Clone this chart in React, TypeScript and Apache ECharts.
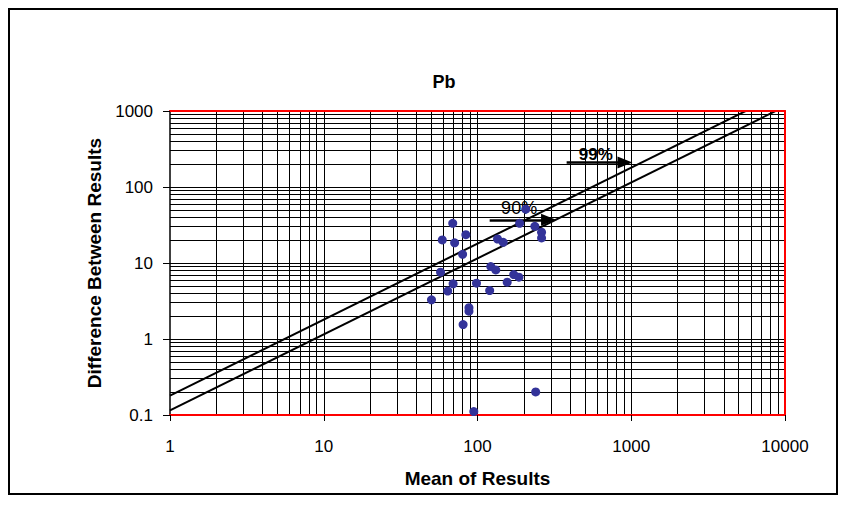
import React, { useEffect, useRef } from "react";
import * as echarts from "echarts";

// Scatter data: Mean of Results vs Difference Between Results (Pb)
const meanValues = [206, 69, 188, 236, 261, 261, 84, 59, 71, 135, 147, 80, 57.5, 122, 131.5, 69.4, 98.5, 172, 186, 156, 64, 120, 50.2, 88, 88, 80.6, 239, 94.6];
const diffValues = [51, 33.3, 33.3, 30.4, 25.4, 21.4, 23.6, 20.1, 18.4, 20.7, 18.7, 13.0, 7.57, 8.97, 8.1, 5.32, 5.43, 7.05, 6.5, 5.6, 4.27, 4.34, 3.28, 2.58, 2.32, 1.55, 0.201, 0.111];

// Control lines (slope 1 on log-log)
const line99X = [1, 10000];
const line99Y = [0.18, 1800];
const line90X = [1, 10000];
const line90Y = [0.115, 1150];

// Arrow annotations
const arrow90X = [120, 290];
const arrow90Y = [37, 37];
const arrow99X = [380, 910];
const arrow99Y = [210, 210];

// Axis ranges / ticks
const xMin = 1, xMax = 10000;
const yMin = 0.1, yMax = 1000;
const xDecades = [1, 10, 100, 1000];
const yDecades = [0.1, 1, 10, 100];
const gridMultipliers = [1, 2, 3, 4, 5, 6, 7, 8, 9];

const FONT = "'Liberation Sans', Arial, Helvetica, sans-serif";

function gridValues(decades: number[], min: number) {
  const out: number[] = [];
  decades.forEach((d) => {
    gridMultipliers.forEach((m) => {
      const v = +(d * m).toPrecision(6);
      if (v > min) out.push(v);
    });
  });
  return out;
}

const fmt = (v: number) => String(+(+v).toPrecision(6));

export default function App() {
  const ref = useRef<HTMLDivElement>(null);
  useEffect(() => {
    if (!ref.current) return;
    const chart = echarts.init(ref.current, undefined, { renderer: "svg" });
    const xGrid = gridValues(xDecades, xMin);
    const yGrid = gridValues(yDecades, yMin);
    const redAxis = { show: true, lineStyle: { color: "#ff0000", width: 2 } };
    const arrowSeries = (name: string, xs: number[], ys: number[], text: string, bold: boolean, size: number, dist: number) => ({
      name,
      type: "line",
      data: [],
      z: 6,
      silent: true,
      markLine: {
        silent: true,
        animation: false,
        symbol: ["none", "triangle"],
        symbolSize: [12, 15],
        lineStyle: { color: "#000", width: 2.5, type: "solid" },
        label: {
          show: true,
          position: "insideMiddleTop",
          formatter: text,
          color: "#000",
          fontFamily: FONT,
          fontSize: size,
          fontWeight: bold ? "bold" : "normal",
          distance: dist,
        },
        emphasis: { disabled: true },
        data: [[{ coord: [xs[0], ys[0]] }, { coord: [xs[1], ys[1]] }]],
      },
    });
    chart.setOption({
      animation: false,
      backgroundColor: "#fff",
      title: {
        text: "Pb",
        left: 429,
        top: 58,
        textAlign: "center",
        textStyle: { fontFamily: FONT, fontSize: 18, fontWeight: "bold", color: "#000" },
      },
      grid: { left: 160, top: 101, width: 615, height: 305, containLabel: false },
      xAxis: [
        {
          type: "log",
          logBase: 10,
          min: xMin,
          max: xMax,
          position: "bottom",
          z: 10,
          axisLine: redAxis,
          axisTick: { show: true, inside: false, length: 6, lineStyle: { color: "#000", width: 1 } },
          axisLabel: { margin: 23, fontFamily: FONT, fontSize: 17, color: "#000", formatter: fmt },
          splitLine: { show: false },
          name: "Mean of Results",
          nameLocation: "middle",
          nameGap: 54,
          nameTextStyle: { fontFamily: FONT, fontSize: 19, fontWeight: "bold", color: "#000" },
        },
        {
          type: "log",
          logBase: 10,
          min: xMin,
          max: xMax,
          position: "top",
          z: 10,
          axisLine: redAxis,
          axisTick: { show: false },
          axisLabel: { show: false },
          splitLine: { show: false },
        },
      ],
      yAxis: [
        {
          type: "log",
          logBase: 10,
          min: yMin,
          max: yMax,
          position: "left",
          z: 10,
          axisLine: { show: true, lineStyle: { color: "#000", width: 1.5 } },
          axisTick: { show: true, inside: false, length: 7, lineStyle: { color: "#000", width: 1 } },
          axisLabel: { margin: 17, fontFamily: FONT, fontSize: 17, color: "#000", formatter: fmt },
          splitLine: { show: false },
          name: "Difference Between Results",
          nameLocation: "middle",
          nameGap: 64,
          nameTextStyle: { fontFamily: FONT, fontSize: 19, fontWeight: "bold", color: "#000" },
        },
        {
          type: "log",
          logBase: 10,
          min: yMin,
          max: yMax,
          position: "right",
          z: 10,
          axisLine: redAxis,
          axisTick: { show: false },
          axisLabel: { show: false },
          splitLine: { show: false },
        },
      ],
      series: [
        {
          name: "grid",
          type: "line",
          data: [],
          z: 1,
          silent: true,
          markLine: {
            silent: true,
            animation: false,
            symbol: "none",
            label: { show: false },
            emphasis: { disabled: true },
            lineStyle: { color: "#000", width: 1, type: "solid" },
            data: [...xGrid.map((v) => ({ xAxis: v })), ...yGrid.map((v) => ({ yAxis: v }))],
          },
        },
        {
          name: "99%",
          type: "line",
          z: 5,
          silent: true,
          symbol: "none",
          lineStyle: { color: "#000", width: 2 },
          data: line99X.map((x, i) => [x, line99Y[i]]),
        },
        {
          name: "90%",
          type: "line",
          z: 5,
          silent: true,
          symbol: "none",
          lineStyle: { color: "#000", width: 2 },
          data: line90X.map((x, i) => [x, line90Y[i]]),
        },
        arrowSeries("arrow90", arrow90X, arrow90Y, "90%", false, 18, 3),
        arrowSeries("arrow99", arrow99X, arrow99Y, "99%", true, 17, 0),
        {
          name: "Pb",
          type: "scatter",
          z: 20,
          symbol: "circle",
          symbolSize: 9,
          itemStyle: { color: "#333399", opacity: 1 },
          data: meanValues.map((x, i) => [x, diffValues[i]]),
        },
      ],
    });
    return () => chart.dispose();
  }, []);
  return (
    <div style={{ width: 830, height: 487, border: "2px solid #000", boxSizing: "border-box", background: "#fff" }}>
      <div ref={ref} style={{ width: 826, height: 483 }} />
    </div>
  );
}
